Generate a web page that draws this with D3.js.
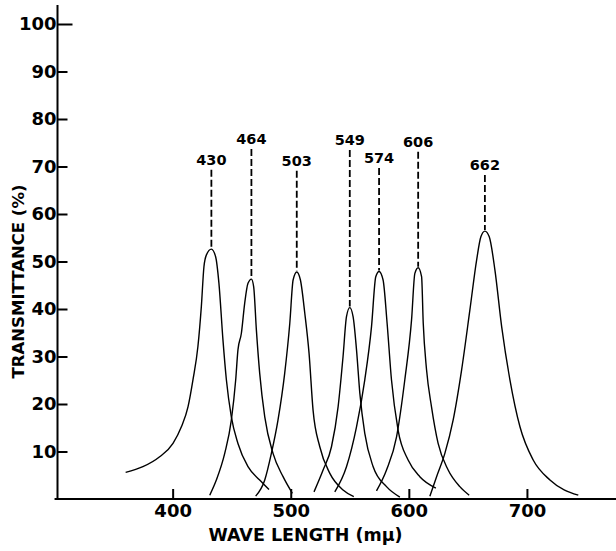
<!DOCTYPE html>
<html>
<head>
<meta charset="utf-8">
<script src="https://cdn.jsdelivr.net/npm/d3@7"></script>
<style>
  body { margin: 0; background: #fff; }
  text { font-family: "DejaVu Sans", sans-serif; font-weight: bold; fill: #000; }
</style>
</head>
<body>
<div id="chart"></div>
<script>
// peak labels (mμ) printed above each filter curve
var peakLabels = ["430", "464", "503", "549", "574", "606", "662"];
// where each dashed drop line starts (transmittance units)
var dropTop = [69.3, 73.7, 69.1, 73.5, 69.7, 73.1, 68.2];

// traced curves: [wave length, transmittance %]
var filter430 = [[360.2,5.6],[374.8,6.8],[389.0,8.9],[400.3,11.7],[407.4,15.2],[413.0,19.4],[417.2,25.1],
  [421.4,32.1],[424.3,40.5],[426.5,48.9],[428.6,51.4],[432.8,52.6],[436.4,51.0],[439.2,45.4],[442.6,33.5],
  [445.5,25.1],[449.7,17.3],[455.3,11.7],[463.8,6.8],[473.7,4.0],[481.6,2.0]];
var filter464 = [[431.4,0.8],[437.0,4.0],[444.1,9.6],[449.7,16.6],[453.4,25.1],[455.3,31.4],[458.2,34.9],
  [461.0,41.2],[463.8,45.4],[466.7,46.3],[468.6,44.7],[470.9,35.6],[473.7,26.5],[478.0,17.3],[485.0,9.6],
  [493.5,4.7],[501.4,1.2]];
var filter503 = [[470.3,0.6],[478.0,4.0],[483.6,9.6],[489.2,16.6],[494.9,26.5],[499.2,37.0],[502.0,46.1],
  [505.1,47.8],[508.2,46.1],[511.9,39.1],[515.5,30.7],[518.9,18.7],[524.6,11.0],[533.1,5.4],[544.3,1.9],[553.4,0.5]];
var filter549 = [[519.7,1.5],[527.4,6.1],[534.5,11.0],[540.1,19.4],[544.3,30.0],[547.2,38.4],[550.0,40.3],
  [552.8,38.4],[555.7,31.4],[558.5,22.3],[562.7,13.8],[569.8,6.8],[581.1,2.6],[592.4,0.4]];
var filter574 = [[537.3,1.5],[547.2,6.8],[555.7,15.2],[562.7,25.1],[568.4,36.3],[572.0,46.8],[574.8,47.9],
  [578.2,46.1],[581.6,37.0],[585.3,25.1],[590.9,14.5],[599.4,8.2],[609.3,4.7],[622.9,2.3]];
var filter606 = [[572.6,1.7],[581.1,6.1],[589.6,13.1],[596.6,25.1],[602.3,37.7],[605.1,47.5],[607.9,48.7],
  [610.8,46.8],[612.2,37.0],[615.0,27.2],[619.2,19.4],[624.8,11.7],[633.3,6.1],[643.2,2.6],[651.1,0.8]];
var filter662 = [[617.8,0.6],[623.5,4.7],[630.5,9.6],[637.5,16.6],[644.7,27.2],[651.7,39.8],[657.4,50.3],
  [661.0,55.2],[664.4,56.4],[668.1,55.2],[672.9,48.2],[678.6,36.3],[685.6,25.1],[694.1,15.2],[705.3,8.2],
  [719.5,4.0],[743.5,0.8]];

var curves = [filter430, filter464, filter503, filter549, filter574, filter606, filter662];

var yTicks = [10, 20, 30, 40, 50, 60, 70, 80, 90, 100];
var xTicks = [400, 500, 600, 700];

// set the dimensions and margins of the graph
var margin = {top: 24, right: 0.5, bottom: 52, left: 57.5},
    width = 616 - margin.left - margin.right,
    height = 551 - margin.top - margin.bottom;

var svgRoot = d3.select("#chart")
  .append("svg")
    .attr("width", 616)
    .attr("height", 551);

var svg = svgRoot.append("g")
    .attr("transform", "translate(" + margin.left + "," + margin.top + ")");

var x = d3.scaleLinear().domain([302.5, 775]).range([0, width]);
var y = d3.scaleLinear().domain([0, 100]).range([height, 0]);

// axis lines
svg.append("line")
  .attr("x1", x(300)).attr("x2", x(776))
  .attr("y1", y(0)).attr("y2", y(0))
  .attr("stroke", "#000").attr("stroke-width", 2);
svg.append("line")
  .attr("x1", x(302.5)).attr("x2", x(302.5))
  .attr("y1", y(0) + 1).attr("y2", y(104))
  .attr("stroke", "#000").attr("stroke-width", 2);

// Y axis, ticks pointing inward
var yAxis = svg.append("g")
  .call(d3.axisLeft(y).tickValues(yTicks).tickSizeInner(-10).tickSizeOuter(0).tickPadding(1));
yAxis.select(".domain").remove();
yAxis.selectAll("line").attr("stroke-width", 2);
yAxis.selectAll(".tick").filter(function(d) { return d === 100; }).select("line").attr("x2", 15);
yAxis.selectAll("text")
  .style("font-size", "18px")
  .style("font-family", "'DejaVu Sans', sans-serif")
  .style("font-weight", "bold");

// X axis
var xAxis = svg.append("g")
  .attr("transform", "translate(0," + height + ")")
  .call(d3.axisBottom(x).tickValues(xTicks).tickSizeInner(-10).tickSizeOuter(0).tickPadding(5));
xAxis.select(".domain").remove();
xAxis.selectAll("line").attr("stroke-width", 2);
xAxis.selectAll("text")
  .style("font-size", "18px")
  .style("font-family", "'DejaVu Sans', sans-serif")
  .style("font-weight", "bold");

// filter curves
var line = d3.line()
  .x(function(d) { return x(d[0]); })
  .y(function(d) { return y(d[1]); })
  .curve(d3.curveMonotoneX);

svg.selectAll("path.curve")
  .data(curves)
  .enter()
  .append("path")
    .attr("class", "curve")
    .attr("d", line)
    .attr("fill", "none")
    .attr("stroke", "#000")
    .attr("stroke-width", 1.4);

// dashed drop lines + peak labels
curves.forEach(function(c, i) {
  var peak = d3.greatest(c, function(d) { return d[1]; });
  svg.append("line")
    .attr("x1", x(peak[0])).attr("x2", x(peak[0]))
    .attr("y1", y(dropTop[i])).attr("y2", y(peak[1]) - 1)
    .attr("stroke", "#000")
    .attr("stroke-width", 1.8)
    .attr("stroke-dasharray", "7,3");
  svg.append("text")
    .attr("x", x(peak[0]))
    .attr("y", y(dropTop[i]) - 5)
    .attr("text-anchor", "middle")
    .style("font-size", "14.5px")
    .text(peakLabels[i]);
});

// axis titles
svgRoot.append("text")
  .attr("x", 305.5)
  .attr("y", 541)
  .attr("text-anchor", "middle")
  .style("font-size", "17.5px")
  .text("WAVE LENGTH (mμ)");

svgRoot.append("text")
  .attr("transform", "translate(23.5,281.5)rotate(-90)")
  .attr("text-anchor", "middle")
  .style("font-size", "16.5px")
  .text("TRANSMITTANCE (%)");
</script>
</body>
</html>
